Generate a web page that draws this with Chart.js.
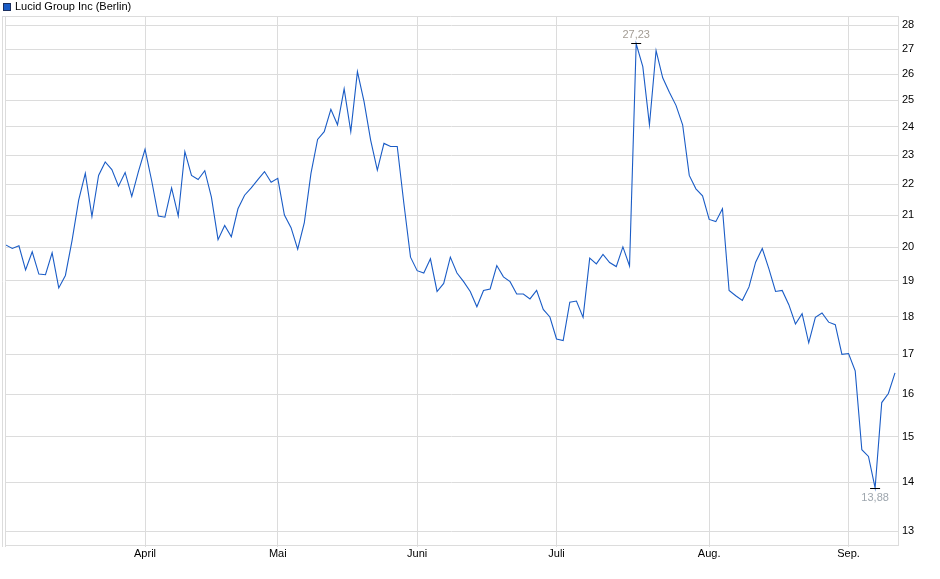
<!DOCTYPE html>
<html>
<head>
<meta charset="utf-8">
<script src="https://cdn.jsdelivr.net/npm/chart.js@4.4.1/dist/chart.umd.min.js"></script>
<style>
  html, body { margin: 0; padding: 0; background: #ffffff; }
  #wrap { position: relative; width: 940px; height: 579px; }
</style>
</head>
<body>
<div id="wrap"><canvas id="c"></canvas></div>
<script>
// ---- data ----
const seriesName = 'Lucid Group Inc (Berlin)';
const prices = [
  20.07, 19.96, 20.04, 19.32, 19.86, 19.20, 19.18, 19.83, 18.80, 19.16,
  20.20, 21.48, 22.37, 20.95, 22.30, 22.76, 22.50, 21.94, 22.40, 21.60,
  22.43, 23.20, 22.12, 20.97, 20.93, 21.88, 20.97, 23.12, 22.30, 22.16,
  22.46, 21.58, 20.23, 20.67, 20.32, 21.20, 21.64, 21.88, 22.16, 22.43,
  22.07, 22.20, 21.00, 20.60, 19.94, 20.76, 22.37, 23.55, 23.83, 24.65,
  24.08, 25.43, 23.83, 26.10, 24.94, 23.52, 22.48, 23.41, 23.30, 23.30,
  21.37, 19.70, 19.30, 19.23, 19.65, 18.70, 18.93, 19.70, 19.23, 18.98,
  18.70, 18.27, 18.73, 18.77, 19.45, 19.12, 18.98, 18.63, 18.63, 18.49,
  18.73, 18.20, 17.99, 17.40, 17.36, 18.40, 18.43, 17.98, 19.67, 19.50,
  19.78, 19.54, 19.42, 20.01, 19.44, 27.23, 26.30, 24.08, 26.95, 25.86,
  25.30, 24.80, 24.08, 22.30, 21.85, 21.62, 20.86, 20.79, 21.20, 18.73,
  18.58, 18.45, 18.83, 19.55, 19.96, 19.35, 18.70, 18.73, 18.33, 17.80,
  18.08, 17.30, 17.98, 18.10, 17.85, 17.78, 17.00, 17.02, 16.58, 14.71,
  14.56, 13.88, 15.80, 16.02, 16.53
];
const monthLabels = ['April', 'Mai', 'Juni', 'Juli', 'Aug.', 'Sep.'];
const monthStartIndex = [21, 41, 62, 83, 106, 127];
const yTickValues = [13, 14, 15, 16, 17, 18, 19, 20, 21, 22, 23, 24, 25, 26, 27, 28];
const highIndex = 95;
const lowIndex = 131;

// ---- chart ----
const FONT = 'Arial, "Liberation Sans", Helvetica, sans-serif';
const GRID = '#dcdcdc';
const LINE = '#1a5cc6';

const points = prices.map((v, i) => ({ x: i, y: v }));

function fmt(v) { return v.toFixed(2).replace('.', ','); }

const extras = {
  id: 'extras',
  afterDraw(chart) {
    const ctx = chart.ctx;
    const a = chart.chartArea;
    ctx.save();
    // frame: top border and outer left line
    ctx.strokeStyle = GRID;
    ctx.lineWidth = 1;
    ctx.beginPath();
    ctx.moveTo(2.5, a.top + 0.5);
    ctx.lineTo(a.right, a.top + 0.5);
    ctx.moveTo(2.5, a.top);
    ctx.lineTo(2.5, a.bottom + 2);
    ctx.moveTo(a.left + 0.5, a.top);
    ctx.lineTo(a.left + 0.5, a.bottom + 2);
    ctx.stroke();

    // legend
    ctx.fillStyle = '#1a5cc6';
    ctx.fillRect(3, 3, 7, 7);
    ctx.strokeStyle = '#1b2f5e';
    ctx.strokeRect(3.5, 3.5, 7, 7);
    ctx.fillStyle = '#000';
    ctx.font = '11px ' + FONT;
    ctx.textBaseline = 'middle';
    ctx.textAlign = 'left';
    ctx.fillText(seriesName, 15, 7);

    // high / low markers
    const meta = chart.getDatasetMeta(0);
    const hp = meta.data[highIndex];
    const lp = meta.data[lowIndex];
    ctx.strokeStyle = '#000';
    ctx.lineWidth = 1;
    ctx.beginPath();
    ctx.moveTo(hp.x - 5, Math.round(hp.y) - 0.5);
    ctx.lineTo(hp.x + 5, Math.round(hp.y) - 0.5);
    ctx.moveTo(lp.x - 5, Math.round(lp.y) + 0.5);
    ctx.lineTo(lp.x + 5, Math.round(lp.y) + 0.5);
    ctx.stroke();
    ctx.font = '11px ' + FONT;
    ctx.textAlign = 'center';
    ctx.fillStyle = '#a39c94';
    ctx.fillText(fmt(prices[highIndex]), hp.x, hp.y - 9);
    ctx.fillStyle = '#9ea6ae';
    ctx.fillText(fmt(prices[lowIndex]), lp.x, lp.y + 10);
    ctx.restore();
  }
};

new Chart(document.getElementById('c'), {
  type: 'line',
  data: {
    datasets: [{
      label: seriesName,
      data: points,
      borderColor: LINE,
      borderWidth: 1.1,
      pointRadius: 0,
      tension: 0,
      fill: false
    }]
  },
  options: {
    responsive: true,
    maintainAspectRatio: false,
    animation: false,
    events: [],
    layout: { padding: { top: 16, left: 5, right: 0, bottom: 0 } },
    plugins: { legend: { display: false }, tooltip: { enabled: false } },
    scales: {
      x: {
        type: 'linear',
        min: -0.1,
        max: 134.45,
        afterFit(s) { s.height = 34; },
        afterBuildTicks(s) { s.ticks = monthStartIndex.map(v => ({ value: v })); },
        grid: { color: GRID, lineWidth: 1, drawTicks: true, tickLength: 2, tickColor: GRID },
        border: { display: true, color: GRID },
        ticks: {
          autoSkip: false,
          maxRotation: 0,
          padding: 0,
          color: '#000',
          font: { family: FONT, size: 11 },
          callback(v) {
            const k = monthStartIndex.indexOf(v);
            return k >= 0 ? monthLabels[k] : '';
          }
        }
      },
      y: {
        type: 'logarithmic',
        position: 'right',
        min: 12.73,
        max: 28.4,
        afterFit(s) { s.width = 42; },
        afterBuildTicks(s) { s.ticks = yTickValues.map(v => ({ value: v })); },
        grid: { color: GRID, lineWidth: 1, drawTicks: false },
        border: { display: true, color: GRID },
        ticks: {
          autoSkip: false,
          padding: 4,
          color: '#000',
          font: { family: FONT, size: 11 },
          callback(v) { return String(v); }
        }
      }
    }
  },
  plugins: [extras]
});
</script>
</body>
</html>
